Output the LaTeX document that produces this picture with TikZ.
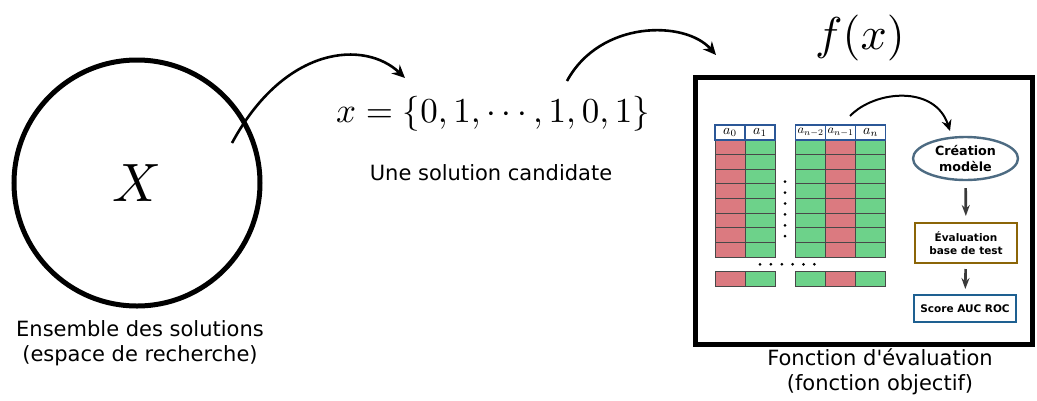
\documentclass[tikz,border=0pt]{standalone}
\usepackage{graphicx}
\usepackage{fontspec}
\newfontfamily\dejavu{DejaVu Sans}
\usetikzlibrary{arrows.meta,shapes.geometric}
\definecolor{cellred}{HTML}{DB7A80}
\definecolor{cellgreen}{HTML}{6DD28A}
\definecolor{cellline}{HTML}{484848}
\definecolor{hdrblue}{HTML}{2B5797}
\definecolor{ellcol}{HTML}{4D6B82}
\definecolor{evalcol}{HTML}{8B6508}
\definecolor{scorecol}{HTML}{1E6091}
\definecolor{garrowcol}{HTML}{3A3A3A}
\tikzset{
  bigarrow/.style={line width=2.6, -{Stealth[length=13,width=12]}},
  smallarrow/.style={line width=2, -{Stealth[length=11,width=10]}},
  grayarrow/.style={line width=2.6, draw=garrowcol, -{Stealth[length=11,width=8]}},
  cell/.style={draw=cellline, line width=0.9},
  hdrcell/.style={draw=hdrblue, fill=white, line width=1.2, minimum width=30, minimum height=15, inner sep=0},
  sans/.style={font=\dejavu\fontsize{21}{25}\selectfont, align=center},
  procbox/.style={rectangle, line width=2, fill=white, inner sep=0, align=center,
    font=\dejavu\bfseries\fontsize{10.5}{13}\selectfont},
  dotmark/.style={fill=black}
}
\begin{document}
\begin{tikzpicture}[x=1pt,y=-1pt]
\useasboundingbox (0,0) rectangle (1037,400);
% search space
\node[circle, draw, line width=5, minimum size=246, inner sep=0] (X) at (137,183) {\scalebox{5.4}{$X$}};
\node[sans] (ens) at (140,343) {Ensemble des solutions\\(espace de recherche)};
% candidate
\node (cand) at (493,114) {\scalebox{3.5}{$x=\{0,1,\cdots,1,0,1\}$}};
\node[sans] (candlbl) at (491,173) {Une solution candidate};
% objective
\node (fx) at (860,38) {\scalebox{4.6}{$f(x)$}};
\node[draw, line width=5, minimum width=337, minimum height=267, inner sep=0] (fbox) at (863.5,210.5) {};
\node[sans] (flbl) at (880,372) {Fonction d'évaluation\\(fonction objectif)};
% connectors
\coordinate (a1s) at (232,143);
\coordinate (a1e) at (405,78);
\coordinate (a2s) at (567,81);
\coordinate (a2e) at (716,55);
\draw[bigarrow] (a1s) .. controls (285,45) and (365,40) .. (a1e);
\draw[bigarrow] (a2s) .. controls (600,20) and (685,20) .. (a2e);
% table
\foreach \x/\col in {715/cellred,745/cellgreen,795.7/cellgreen,825.7/cellred,855.7/cellgreen}{
  \foreach \r in {0,...,7}{
    \draw[cell, fill=\col] (\x,140+\r*14.63) rectangle ++(30,14.63);
  }
  \draw[cell, fill=\col] (\x,271.7) rectangle ++(30,14.5);
}
\node[hdrcell] (h0) at (730,132.5) {\scalebox{1.4}{$a_0$}};
\node[hdrcell] (h1) at (760,132.5) {\scalebox{1.4}{$a_1$}};
\node[hdrcell] (h2) at (810.7,132.5) {\scalebox{1.25}{$a_{n-2}$}};
\node[hdrcell] (h3) at (840.7,132.5) {\scalebox{1.25}{$a_{n-1}$}};
\node[hdrcell] (h4) at (870.7,132.5) {\scalebox{1.4}{$a_n$}};
\foreach \y in {181.7,192.6,203.5,214.4,225.3,236.2}{
  \fill[dotmark] (785,\y) circle (1.5);
}
\foreach \x in {760,770.9,781.8,792.6,803.5,814.3}{
  \fill[dotmark] (\x,264.3) circle (1.5);
}
% process
\node[ellipse, draw=ellcol, line width=2.4, fill=white, minimum width=105, minimum height=43, inner sep=0,
  font=\dejavu\bfseries\fontsize{12.7}{16}\selectfont, align=center] (cm) at (965.5,158.5) {Création\\modèle};
\node[procbox, draw=evalcol, minimum width=102, minimum height=40] (ev) at (966,243) {Évaluation\\base de test};
\node[procbox, draw=scorecol, minimum width=102, minimum height=27] (sc) at (965,308.5) {Score AUC ROC};
\draw[grayarrow, shorten <=7, shorten >=6] (cm) -- (ev);
\draw[grayarrow, shorten <=5, shorten >=5] (ev) -- (sc);
\coordinate (a3s) at (850,116);
\coordinate (a3e) at (950,131);
\draw[smallarrow] (a3s) .. controls (875,90) and (935,85) .. (a3e);
\end{tikzpicture}
\end{document}
